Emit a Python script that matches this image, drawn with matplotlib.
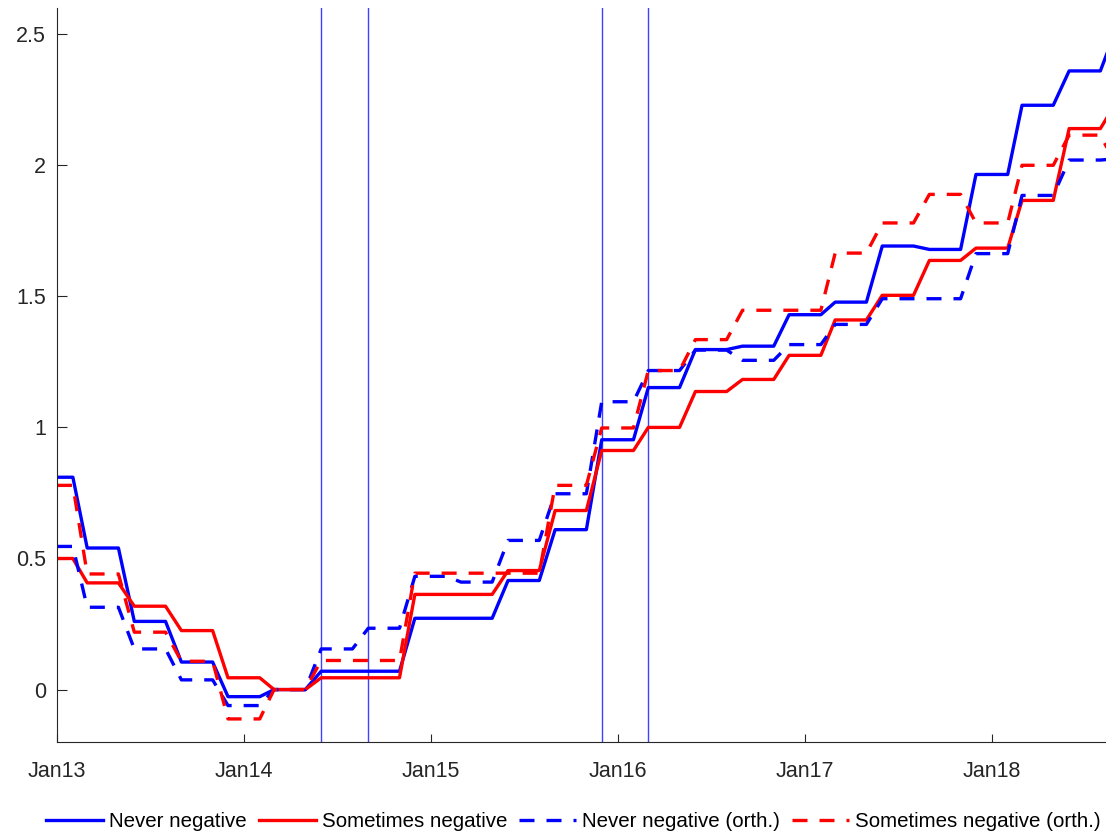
import pandas as pd
import numpy as np
import matplotlib.pyplot as plt
import matplotlib.dates as mdates

plt.rcParams['font.family'] = ['Liberation Sans', 'DejaVu Sans']

# monthly observations, Jan 2013 .. Sep 2018
months = pd.date_range('2013-01-01', periods=69, freq='MS')

never_neg = [
    0.81, 0.81, 0.54, 0.54, 0.54, 0.26, 0.26, 0.26, 0.105, 0.105, 0.105, -0.027,
    -0.027, -0.027, 0, 0, 0, 0.07, 0.07, 0.07, 0.07, 0.07, 0.07, 0.272,
    0.272, 0.272, 0.272, 0.272, 0.272, 0.416, 0.416, 0.416, 0.61, 0.61, 0.61, 0.953,
    0.953, 0.953, 1.152, 1.152, 1.152, 1.297, 1.297, 1.297, 1.31, 1.31, 1.31, 1.43,
    1.43, 1.43, 1.478, 1.478, 1.478, 1.692, 1.692, 1.692, 1.679, 1.679, 1.679, 1.965,
    1.965, 1.965, 2.229, 2.229, 2.229, 2.36, 2.36, 2.36, 2.52]

sometimes_neg = [
    0.5, 0.5, 0.407, 0.407, 0.407, 0.318, 0.318, 0.318, 0.225, 0.225, 0.225, 0.045,
    0.045, 0.045, 0, 0, 0, 0.045, 0.045, 0.045, 0.045, 0.045, 0.045, 0.363,
    0.363, 0.363, 0.363, 0.363, 0.363, 0.454, 0.454, 0.454, 0.683, 0.683, 0.683, 0.912,
    0.912, 0.912, 1.0, 1.0, 1.0, 1.137, 1.137, 1.137, 1.183, 1.183, 1.183, 1.275,
    1.275, 1.275, 1.41, 1.41, 1.41, 1.504, 1.504, 1.504, 1.637, 1.637, 1.637, 1.684,
    1.684, 1.684, 1.866, 1.866, 1.866, 2.14, 2.14, 2.14, 2.24]

never_neg_orth = [
    0.546, 0.546, 0.314, 0.314, 0.314, 0.155, 0.155, 0.155, 0.037, 0.037, 0.037, -0.061,
    -0.061, -0.061, 0, 0, 0, 0.155, 0.155, 0.155, 0.234, 0.234, 0.234, 0.432,
    0.432, 0.432, 0.41, 0.41, 0.41, 0.569, 0.569, 0.569, 0.747, 0.747, 0.747, 1.098,
    1.098, 1.098, 1.217, 1.217, 1.217, 1.295, 1.295, 1.295, 1.256, 1.256, 1.256, 1.316,
    1.316, 1.316, 1.393, 1.393, 1.393, 1.491, 1.491, 1.491, 1.491, 1.491, 1.491, 1.663,
    1.663, 1.663, 1.885, 1.885, 1.885, 2.02, 2.02, 2.02, 2.025]

sometimes_neg_orth = [
    0.779, 0.779, 0.441, 0.441, 0.441, 0.219, 0.219, 0.219, 0.108, 0.108, 0.108, -0.112,
    -0.112, -0.112, 0, 0, 0, 0.111, 0.111, 0.111, 0.111, 0.111, 0.111, 0.444,
    0.444, 0.444, 0.444, 0.444, 0.444, 0.444, 0.444, 0.444, 0.779, 0.779, 0.779, 0.998,
    0.998, 0.998, 1.217, 1.217, 1.217, 1.335, 1.335, 1.335, 1.447, 1.447, 1.447, 1.447,
    1.447, 1.447, 1.665, 1.665, 1.665, 1.78, 1.78, 1.78, 1.889, 1.889, 1.889, 1.78,
    1.78, 1.78, 2.0, 2.0, 2.0, 2.115, 2.115, 2.115, 2.0]

# policy dates marked with vertical lines
events = pd.to_datetime(['2014-06-01', '2014-09-01', '2015-12-01', '2016-03-01'])

fig = plt.figure(figsize=(11.06, 8.34), dpi=100)
ax = fig.add_axes([57/1106, 92/834, 1 - 57/1106, 734/834])

lw = 2.4
dash = (0, (4.5, 3.6))
ax.plot(months, never_neg, color=(0, 0, 1), lw=lw, label='Never negative')
ax.plot(months, sometimes_neg, color=(1, 0, 0), lw=lw, label='Sometimes negative')
ax.plot(months, never_neg_orth, color=(0, 0, 1), lw=lw, ls=dash, label='Never negative (orth.)')
ax.plot(months, sometimes_neg_orth, color=(1, 0, 0), lw=lw, ls=dash, label='Sometimes negative (orth.)')

for d in events:
    ax.axvline(d, color='#4040ff', lw=1.0, zorder=1)

ax.set_xlim(pd.Timestamp('2013-01-01'), pd.Timestamp('2018-08-12'))
ax.set_ylim(-0.2, 2.6)
ax.xaxis.set_major_locator(mdates.YearLocator())
ax.xaxis.set_major_formatter(mdates.DateFormatter('%b%y'))
ax.set_yticks([0, 0.5, 1, 1.5, 2, 2.5])
ax.set_yticklabels(['0', '0.5', '1', '1.5', '2', '2.5'])

for s in ['top', 'right']:
    ax.spines[s].set_visible(False)
for s in ['left', 'bottom']:
    ax.spines[s].set_color('#262626')
    ax.spines[s].set_linewidth(0.8)
ax.tick_params(axis='y', direction='in', length=7.5, width=0.8, color='#262626',
               labelcolor='#262626', labelsize=15.5, pad=8)
ax.tick_params(axis='x', direction='in', length=6, width=0.8, color='#262626',
               labelcolor='#262626', labelsize=15.5, pad=14)

fig.legend(loc='center', bbox_to_anchor=(0.5186, 0.0144), ncol=4, frameon=False,
           fontsize=14.8, handlelength=2.75, handletextpad=0.3, columnspacing=0.6)

fig.savefig('out.png', dpi=100)
